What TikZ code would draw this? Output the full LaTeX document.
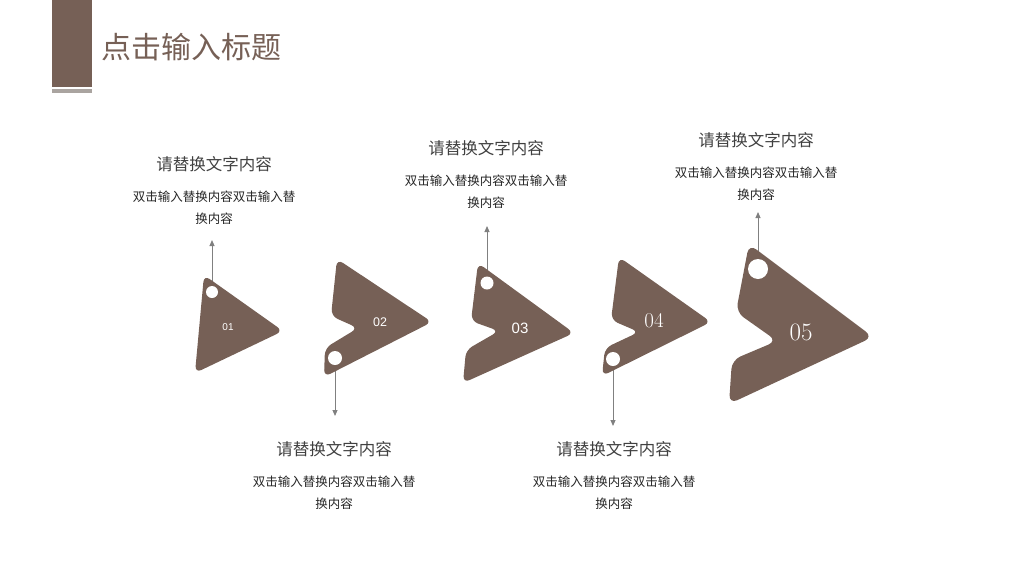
\documentclass[tikz,border=0pt]{standalone}
\usepackage{fontspec}
\newfontfamily\cjk{Noto Sans CJK SC}
\newfontfamily\numsans{Liberation Sans}
\usetikzlibrary{arrows.meta,backgrounds}
\definecolor{brown1}{RGB}{118,96,86}
\definecolor{bargray}{RGB}{170,164,160}
\definecolor{ttl}{RGB}{64,64,64}
\definecolor{bdy}{RGB}{38,38,38}
\definecolor{lnk}{RGB}{128,128,128}
\begin{document}
\begin{tikzpicture}[x=1pt,y=-1pt,
  shp/.style={fill=brown1,rounded corners=7pt},
  hole/.style={circle,fill=white,inner sep=0pt,minimum size=#1},
  num/.style={text=white,inner sep=0pt},
  ttlbox/.style={font=\cjk\fontsize{16.5}{20}\selectfont,text=ttl,inner sep=0pt},
  bodybox/.style={font=\cjk\fontsize{12.5}{22}\selectfont,text=bdy,align=center,inner sep=0pt},
  conn/.style={draw=lnk,line width=1pt,-{Triangle[length=6pt,width=5pt]}}]
\useasboundingbox (0,0) rectangle (1024,576);
% header
\fill[brown1] (52,0) rectangle (92,87);
\fill[bargray] (52,89) rectangle (92,93);
\node[anchor=west,font=\cjk\fontsize{30}{34}\selectfont,text=brown1,inner sep=0pt] (title) at (101,47) {点击输入标题};
% shapes
\fill[shp] (204,275) -- (283,331) -- (195,373) -- cycle;
\fill[shp] (337,259) -- (432,322) -- (324,377) -- (325,348) -- (358,328) -- (331,316) -- cycle;
\fill[shp] (478,263) -- (574,333) -- (463,383) -- (466,350) -- (499,331) -- (471,321) -- cycle;
\fill[shp] (619,257) -- (711,322) -- (602,376) -- (605,348) -- (639,332) -- (611,320) -- cycle;
\fill[shp,rounded corners=9pt] (749,244) -- (873,337) -- (729,404) -- (732,360) -- (777,341) -- (736,312) -- cycle;
% holes
\node[hole=12pt] (c1) at (212,292) {};
\node[hole=14pt] (c2) at (335,358) {};
\node[hole=13pt] (c3) at (487,283) {};
\node[hole=14pt] (c4) at (613,359) {};
\node[hole=20pt] (c5) at (758,269) {};
% numbers
\node[num,font=\numsans\fontsize{10}{12}\selectfont] (n1) at (228,327) {01};
\node[num,font=\numsans\fontsize{12.5}{14}\selectfont] (n2) at (380,322) {02};
\node[num,font=\numsans\fontsize{15}{18}\selectfont] (n3) at (520,328) {03};
\node[num,font=\fontsize{21}{24}\selectfont] (n4) at (654,321) {04};
\node[num,font=\fontsize{25}{28}\selectfont] (n5) at (801,332) {05};
% texts
\node[ttlbox] (t1) at (214,164) {请替换文字内容};
\node[bodybox] (b1) at (214,208) {双击输入替换内容双击输入替\\换内容};
\node[ttlbox] (t2) at (334,449) {请替换文字内容};
\node[bodybox] (b2) at (334,493) {双击输入替换内容双击输入替\\换内容};
\node[ttlbox] (t3) at (486,148) {请替换文字内容};
\node[bodybox] (b3) at (486,192) {双击输入替换内容双击输入替\\换内容};
\node[ttlbox] (t4) at (614,449) {请替换文字内容};
\node[bodybox] (b4) at (614,493) {双击输入替换内容双击输入替\\换内容};
\node[ttlbox] (t5) at (756,140) {请替换文字内容};
\node[bodybox] (b5) at (756,184) {双击输入替换内容双击输入替\\换内容};
% connector ends
\coordinate (e1) at (212,240);
\coordinate (e2) at (335,416);
\coordinate (e3) at (487,226);
\coordinate (e4) at (613,426);
\coordinate (e5) at (758,212);
\begin{scope}[on background layer]
\draw[conn] (c1.center) -- (e1);
\draw[conn] (c2.center) -- (e2);
\draw[conn] (c3.center) -- (e3);
\draw[conn] (c4.center) -- (e4);
\draw[conn] (c5.center) -- (e5);
\end{scope}
\end{tikzpicture}
\end{document}
